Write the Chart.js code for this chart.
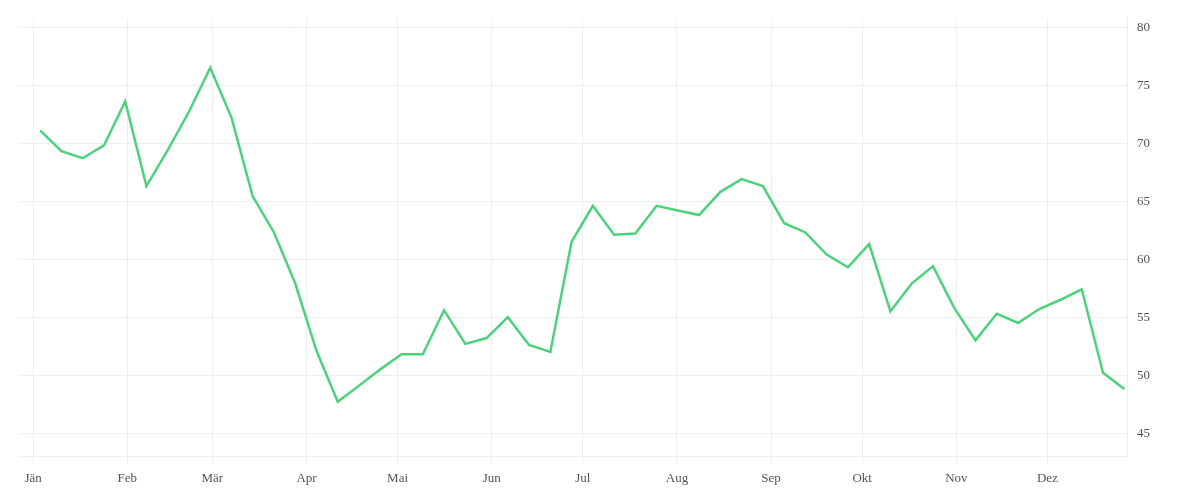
<!DOCTYPE html>
<html>
<head>
<meta charset="utf-8">
<script src="https://cdn.jsdelivr.net/npm/chart.js@4"></script>
<style>
  html, body { margin: 0; padding: 0; background: #fff; }
  #wrap { width: 1200px; height: 500px; }
</style>
</head>
<body>
<div id="wrap"><canvas id="c"></canvas></div>
<script>
// weekly values, first point on day 2.3 of the year
const firstDay = 2.3;
const values = [71.1, 69.3, 68.7, 69.8, 73.6, 66.3, 69.4, 72.7, 76.5, 72.2,
  65.4, 62.3, 57.9, 52.1, 47.7, 49.1, 50.5, 51.8, 51.8, 55.6,
  52.7, 53.2, 55.0, 52.6, 52.0, 61.5, 64.6, 62.1, 62.2, 64.6,
  64.2, 63.8, 65.8, 66.9, 66.3, 63.1, 62.3, 60.4, 59.3, 61.3,
  55.5, 57.9, 59.4, 55.8, 53.0, 55.3, 54.5, 55.7, 56.5, 57.4,
  50.2, 48.8];
const monthLabels = ['Jän', 'Feb', 'Mär', 'Apr', 'Mai', 'Jun', 'Jul', 'Aug', 'Sep', 'Okt', 'Nov', 'Dez'];
const monthStartDays = [0, 31, 59, 90, 120, 151, 181, 212, 243, 273, 304, 334];
const yTicks = [45, 50, 55, 60, 65, 70, 75, 80];

const points = values.map((v, i) => ({ x: firstDay + 7 * i, y: v }));

Chart.defaults.font.family = '"Liberation Serif", "DejaVu Serif", serif';
Chart.defaults.font.size = 13;
Chart.defaults.color = '#555';

new Chart(document.getElementById('c'), {
  type: 'line',
  data: {
    datasets: [{
      data: points,
      borderColor: '#4cd27c',
      borderWidth: 2.5,
      pointRadius: 0,
      tension: 0
    }]
  },
  options: {
    responsive: true,
    maintainAspectRatio: false,
    animation: false,
    layout: { padding: { left: 18, right: 40, top: 12, bottom: 8 } },
    plugins: { legend: { display: false }, tooltip: { enabled: false } },
    scales: {
      x: {
        type: 'linear',
        min: -5,
        max: 360.2,
        afterBuildTicks: (axis) => { axis.ticks = monthStartDays.map(d => ({ value: d })); },
        ticks: {
          autoSkip: false,
          maxRotation: 0,
          padding: 6,
          callback: (val) => monthLabels[monthStartDays.indexOf(val)]
        },
        grid: { color: '#eeeeee', tickLength: 8 },
        border: { display: true, color: '#eeeeee' }
      },
      y: {
        position: 'right',
        min: 43,
        max: 80.8,
        afterBuildTicks: (axis) => { axis.ticks = yTicks.map(v => ({ value: v })); },
        ticks: { padding: 10 },
        grid: { color: '#eeeeee', tickLength: 0 },
        border: { display: true, color: '#eeeeee' }
      }
    }
  }
});
</script>
</body>
</html>
